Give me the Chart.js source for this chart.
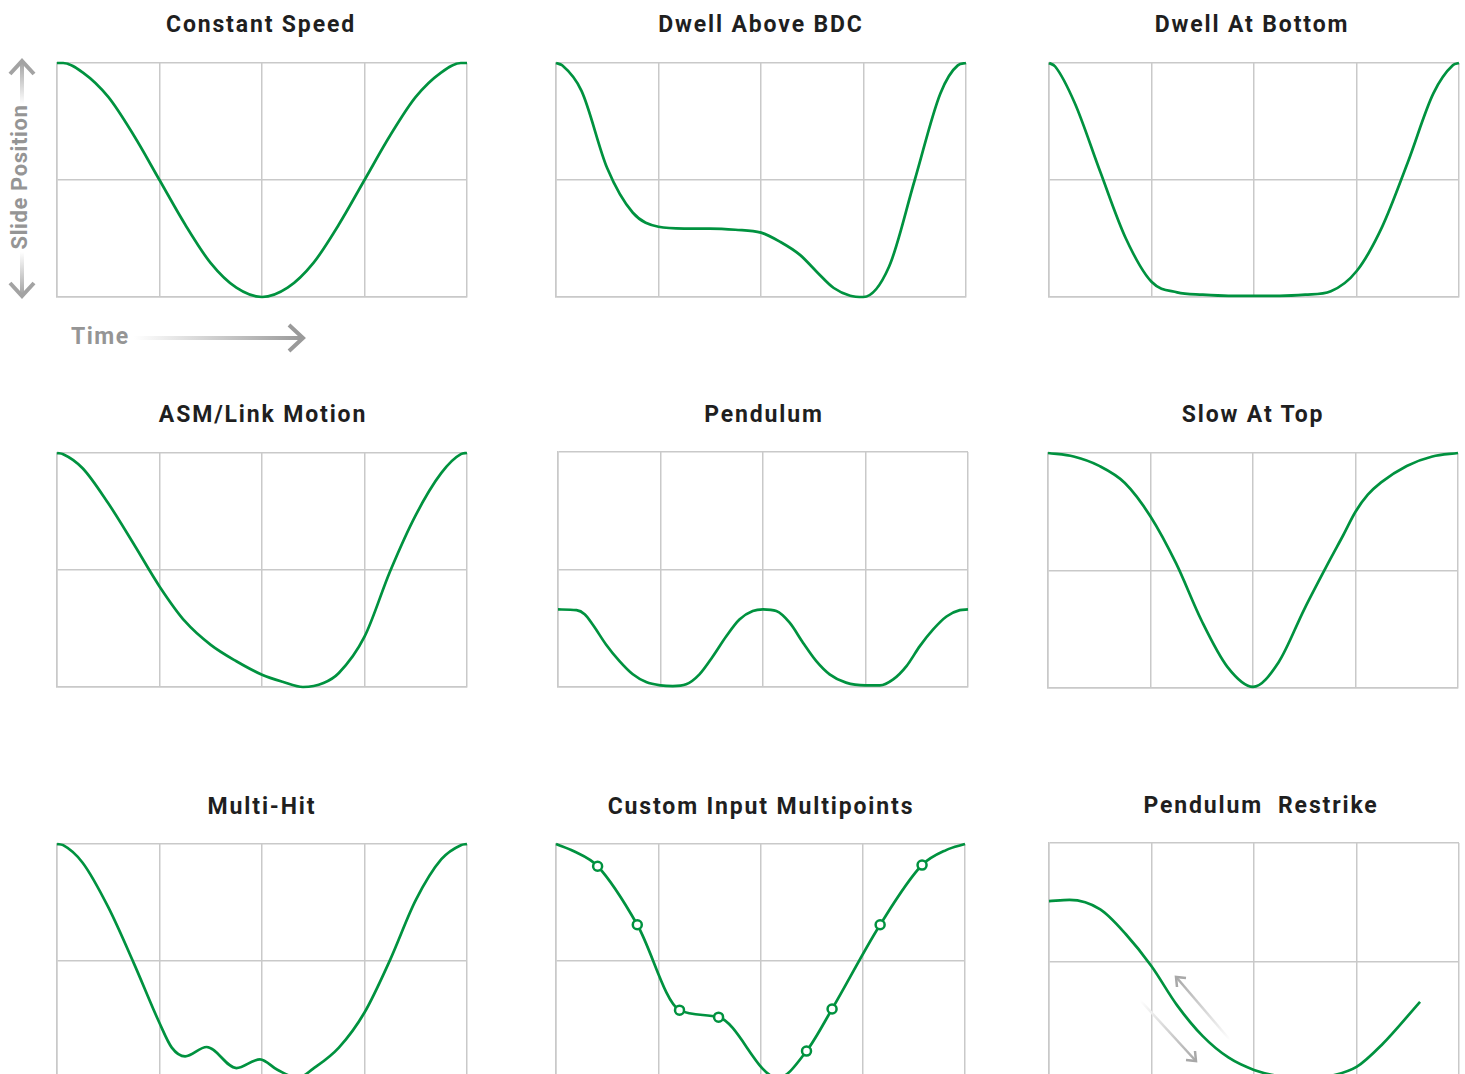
<!DOCTYPE html>
<html>
<head>
<meta charset="utf-8">
<script src="https://cdn.jsdelivr.net/npm/chart.js@4.4.1/dist/chart.umd.min.js"></script>
<style>
  html, body { margin: 0; padding: 0; background: #fff; overflow: hidden; }
  body { width: 1465px; height: 1074px; position: relative; font-family: Roboto, "Noto Sans", sans-serif; }
  canvas { position: absolute; }
  .title { position: absolute; width: 440px; text-align: center; font-weight: 700; font-size: 23px;
           line-height: 28px; color: #1f1f1f; letter-spacing: 1.85px; white-space: pre; }
  .axis-txt { position: absolute; font-weight: 700; line-height: 26px; color: #959595; white-space: pre; }
  #deco { position: absolute; left: 0; top: 0; z-index: 5; pointer-events: none; }
</style>
</head>
<body>

<svg id="deco" width="1465" height="1074">
  <defs>
    <linearGradient id="gUp" x1="0" y1="1" x2="0" y2="0"><stop offset="0" stop-color="#fff"/><stop offset="1" stop-color="#a3a3a3"/></linearGradient>
    <linearGradient id="gDown" x1="0" y1="0" x2="0" y2="1"><stop offset="0" stop-color="#fff"/><stop offset="1" stop-color="#a3a3a3"/></linearGradient>
    <linearGradient id="gRight" x1="0" y1="0" x2="1" y2="0"><stop offset="0" stop-color="#fff"/><stop offset="1" stop-color="#9a9a9a"/></linearGradient>
    <linearGradient id="gA" gradientUnits="userSpaceOnUse" x1="1230" y1="1040" x2="1176" y2="977"><stop offset="0" stop-color="#fff"/><stop offset="1" stop-color="#a8a8a8"/></linearGradient>
    <linearGradient id="gB" gradientUnits="userSpaceOnUse" x1="1140" y1="1000" x2="1196" y2="1061"><stop offset="0" stop-color="#fff"/><stop offset="1" stop-color="#a8a8a8"/></linearGradient>
  </defs>
  <!-- frecce asse verticale -->
  <rect x="20" y="62" width="4" height="42" fill="url(#gUp)"/>
  <polyline points="10,74 22,61 34,74" fill="none" stroke="#a3a3a3" stroke-width="4"/>
  <rect x="20" y="252" width="4" height="43" fill="url(#gDown)"/>
  <polyline points="10,283 22,296 34,283" fill="none" stroke="#a3a3a3" stroke-width="4"/>
  <!-- freccia tempo -->
  <rect x="134" y="336" width="168" height="4" fill="url(#gRight)"/>
  <polyline points="289,325 303,338 289,351" fill="none" stroke="#9a9a9a" stroke-width="4"/>
  <!-- frecce pendulum restrike -->
  <line x1="1230" y1="1040" x2="1177" y2="978" stroke="url(#gA)" stroke-width="2.5"/>
  <polyline points="1186,978 1176,977 1177,987" fill="none" stroke="#a8a8a8" stroke-width="2.5"/>
  <line x1="1140" y1="1000" x2="1195" y2="1060" stroke="url(#gB)" stroke-width="2.5"/>
  <polyline points="1186,1060 1196,1061 1195,1051" fill="none" stroke="#a8a8a8" stroke-width="2.5"/>
</svg>

<div class="axis-txt" style="left:-60px; top:164px; width:160px; text-align:center; font-size:22px; letter-spacing:0.6px; transform:rotate(-90deg);">Slide Position</div>
<div class="axis-txt" style="left:71px; top:324px; font-size:23px; letter-spacing:1.5px;">Time</div>

<script>
// ===============================
// Dati letti dall'immagine
// x = colonne griglia (0..4), y = posizione slitta (0 = basso, 2 = alto)
// ===============================

const constSpeedX = [0, 0.06, 0.25, 0.5, 0.75, 1, 1.25, 1.5, 1.75, 2, 2.25, 2.5, 2.75, 3, 3.25, 3.5, 3.75, 3.94, 4];
const constSpeedY = [2.0, 2.0, 1.92, 1.71, 1.38, 1.0, 0.62, 0.29, 0.08, 0.0, 0.08, 0.29, 0.62, 1.0, 1.38, 1.71, 1.92, 2.0, 2.0];

const dwellBdcX = [0, 0.06, 0.25, 0.5, 0.75, 1, 1.25, 1.5, 1.75, 2, 2.19, 2.38, 2.55, 2.71, 2.87, 3, 3.25, 3.5, 3.75, 3.92, 4];
const dwellBdcY = [2.0, 1.98, 1.76, 1.10, 0.72, 0.60, 0.585, 0.585, 0.575, 0.55, 0.47, 0.36, 0.21, 0.077, 0.011, 0.0, 0.26, 1.0, 1.74, 1.98, 2.0];

const dwellBottomX = [0, 0.06, 0.25, 0.5, 0.75, 1, 1.25, 1.5, 1.75, 2, 2.25, 2.5, 2.75, 3, 3.25, 3.5, 3.75, 3.94, 4];
const dwellBottomY = [2.0, 1.97, 1.66, 1.07, 0.50, 0.13, 0.04, 0.02, 0.01, 0.01, 0.01, 0.02, 0.05, 0.22, 0.60, 1.15, 1.74, 1.98, 2.0];

const linkMotionX = [0, 0.06, 0.25, 0.5, 0.75, 1, 1.25, 1.5, 1.75, 2, 2.2, 2.4, 2.6, 2.75, 3, 3.25, 3.5, 3.75, 3.94, 4];
const linkMotionY = [2.0, 1.99, 1.87, 1.57, 1.22, 0.86, 0.56, 0.36, 0.22, 0.105, 0.045, 0.0, 0.034, 0.12, 0.43, 0.99, 1.47, 1.83, 1.99, 2.0];

const pendulumX = [0, 0.18, 0.26, 0.34, 0.47, 0.60, 0.73, 0.86, 1.0, 1.12, 1.25, 1.38, 1.51, 1.64, 1.77, 1.90, 2.0,
                   2.13, 2.26, 2.39, 2.52, 2.65, 2.81, 3.0, 3.14, 3.27, 3.40, 3.53, 3.66, 3.79, 3.92, 4];
const pendulumY = [0.66, 0.654, 0.62, 0.53, 0.36, 0.22, 0.108, 0.042, 0.014, 0.008, 0.023, 0.108, 0.26, 0.43, 0.575, 0.646, 0.66,
                   0.646, 0.547, 0.377, 0.22, 0.108, 0.037, 0.014, 0.014, 0.065, 0.178, 0.348, 0.49, 0.60, 0.654, 0.66];

const slowTopX = [0, 0.25, 0.5, 0.75, 1, 1.25, 1.5, 1.75, 2, 2.25, 2.5, 2.75, 2.88, 3, 3.12, 3.25, 3.5, 3.75, 4];
const slowTopY = [2.0, 1.97, 1.89, 1.745, 1.46, 1.06, 0.57, 0.18, 0.01, 0.22, 0.67, 1.09, 1.30, 1.50, 1.645, 1.75, 1.89, 1.97, 2.0];

const multiHitX = [0, 0.06, 0.25, 0.5, 0.75, 1, 1.12, 1.25, 1.46, 1.75, 1.98, 2.15, 2.35, 2.5, 2.75, 3, 3.25, 3.5, 3.75, 3.94, 4];
const multiHitY = [2.0, 1.99, 1.84, 1.46, 0.98, 0.47, 0.26, 0.185, 0.265, 0.085, 0.16, 0.07, 0.0, 0.08, 0.26, 0.56, 1.01, 1.52, 1.87, 1.99, 2.0];

// punti inseriti dall'utente (cerchietti) e punti di raccordo
const multiPointX = [0, 0.17, 0.407, 0.795, 1.208, 1.59, 2.17, 2.45, 2.70, 3.17, 3.58, 3.82, 4];
const multiPointY = [2.0, 1.94, 1.81, 1.31, 0.58, 0.52, 0.0, 0.23, 0.59, 1.31, 1.82, 1.95, 2.0];
const multiPointIsInput = [false, false, true, true, true, true, false, true, true, true, true, false, false];

const restrikeX = [0, 0.2, 0.5, 0.75, 1, 1.25, 1.5, 1.75, 2, 2.25, 2.5, 2.75, 3, 3.25, 3.62];
const restrikeY = [1.51, 1.52, 1.44, 1.23, 0.96, 0.63, 0.37, 0.19, 0.085, 0.03, 0.0, 0.034, 0.11, 0.30, 0.66];

// ===============================
// Impaginazione dei 9 riquadri
// box = [sinistra, alto, larghezza, altezza] dell'area del grafico
// ===============================
const panels = [
    { title: "Constant Speed",           xs: constSpeedX,  ys: constSpeedY,  box: [57, 63, 410, 234],   tx: 261,  ty: 25 },
    { title: "Dwell Above BDC",          xs: dwellBdcX,    ys: dwellBdcY,    box: [556, 63, 410, 234],  tx: 761,  ty: 25 },
    { title: "Dwell At Bottom",          xs: dwellBottomX, ys: dwellBottomY, box: [1049, 63, 410, 234], tx: 1252, ty: 25 },
    { title: "ASM/Link Motion",          xs: linkMotionX,  ys: linkMotionY,  box: [57, 453, 410, 234],  tx: 263,  ty: 415 },
    { title: "Pendulum",                 xs: pendulumX,    ys: pendulumY,    box: [558, 452, 410, 235], tx: 764,  ty: 415 },
    { title: "Slow At Top",              xs: slowTopX,     ys: slowTopY,     box: [1048, 453, 410, 235], tx: 1253, ty: 415 },
    { title: "Multi-Hit",                xs: multiHitX,    ys: multiHitY,    box: [57, 844, 410, 234],  tx: 262,  ty: 807 },
    { title: "Custom Input Multipoints", xs: multiPointX,  ys: multiPointY,  box: [556, 844, 409, 234], tx: 761,  ty: 807, marks: multiPointIsInput },
    { title: "Pendulum  Restrike",       xs: restrikeX,    ys: restrikeY,    box: [1049, 843, 410, 237], tx: 1261, ty: 806 }
];

const GREEN = "#00923f";
const GRID = "#c9c9c9";
const PAD = 4;

panels.forEach(p => {
    // Titolo
    const t = document.createElement("div");
    t.className = "title";
    t.textContent = p.title;
    t.style.left = (p.tx - 220) + "px";
    t.style.top = (p.ty - 14) + "px";
    document.body.appendChild(t);

    // Canvas
    const [L, T, W, H] = p.box;
    const cv = document.createElement("canvas");
    cv.width = W + PAD * 2;
    cv.height = H + PAD * 2;
    cv.style.left = (L - PAD) + "px";
    cv.style.top = (T - PAD) + "px";
    document.body.appendChild(cv);

    const points = p.xs.map((x, i) => ({ x: x, y: p.ys[i] }));
    const radius = p.marks ? p.marks.map(m => m ? 4.5 : 0) : 0;

    new Chart(cv, {
        type: "line",
        data: {
            datasets: [{
                data: points,
                borderColor: GREEN,
                borderWidth: 2.7,
                cubicInterpolationMode: "monotone",
                pointRadius: radius,
                pointBorderWidth: 2.5,
                pointBorderColor: GREEN,
                pointBackgroundColor: "#fff",
                fill: false,
                clip: false
            }]
        },
        options: {
            responsive: false,
            animation: false,
            events: [],
            layout: { padding: PAD },
            plugins: { legend: { display: false }, tooltip: { enabled: false } },
            scales: {
                x: {
                    type: "linear", min: 0, max: 4,
                    ticks: { display: false, stepSize: 1 },
                    grid: { color: GRID, lineWidth: 1.5, drawTicks: false },
                    border: { display: true, color: GRID, width: 1.5 }
                },
                y: {
                    type: "linear", min: 0, max: 2,
                    ticks: { display: false, stepSize: 1 },
                    grid: { color: GRID, lineWidth: 1.5, drawTicks: false },
                    border: { display: true, color: GRID, width: 1.5 }
                }
            }
        }
    });
});
</script>
</body>
</html>
